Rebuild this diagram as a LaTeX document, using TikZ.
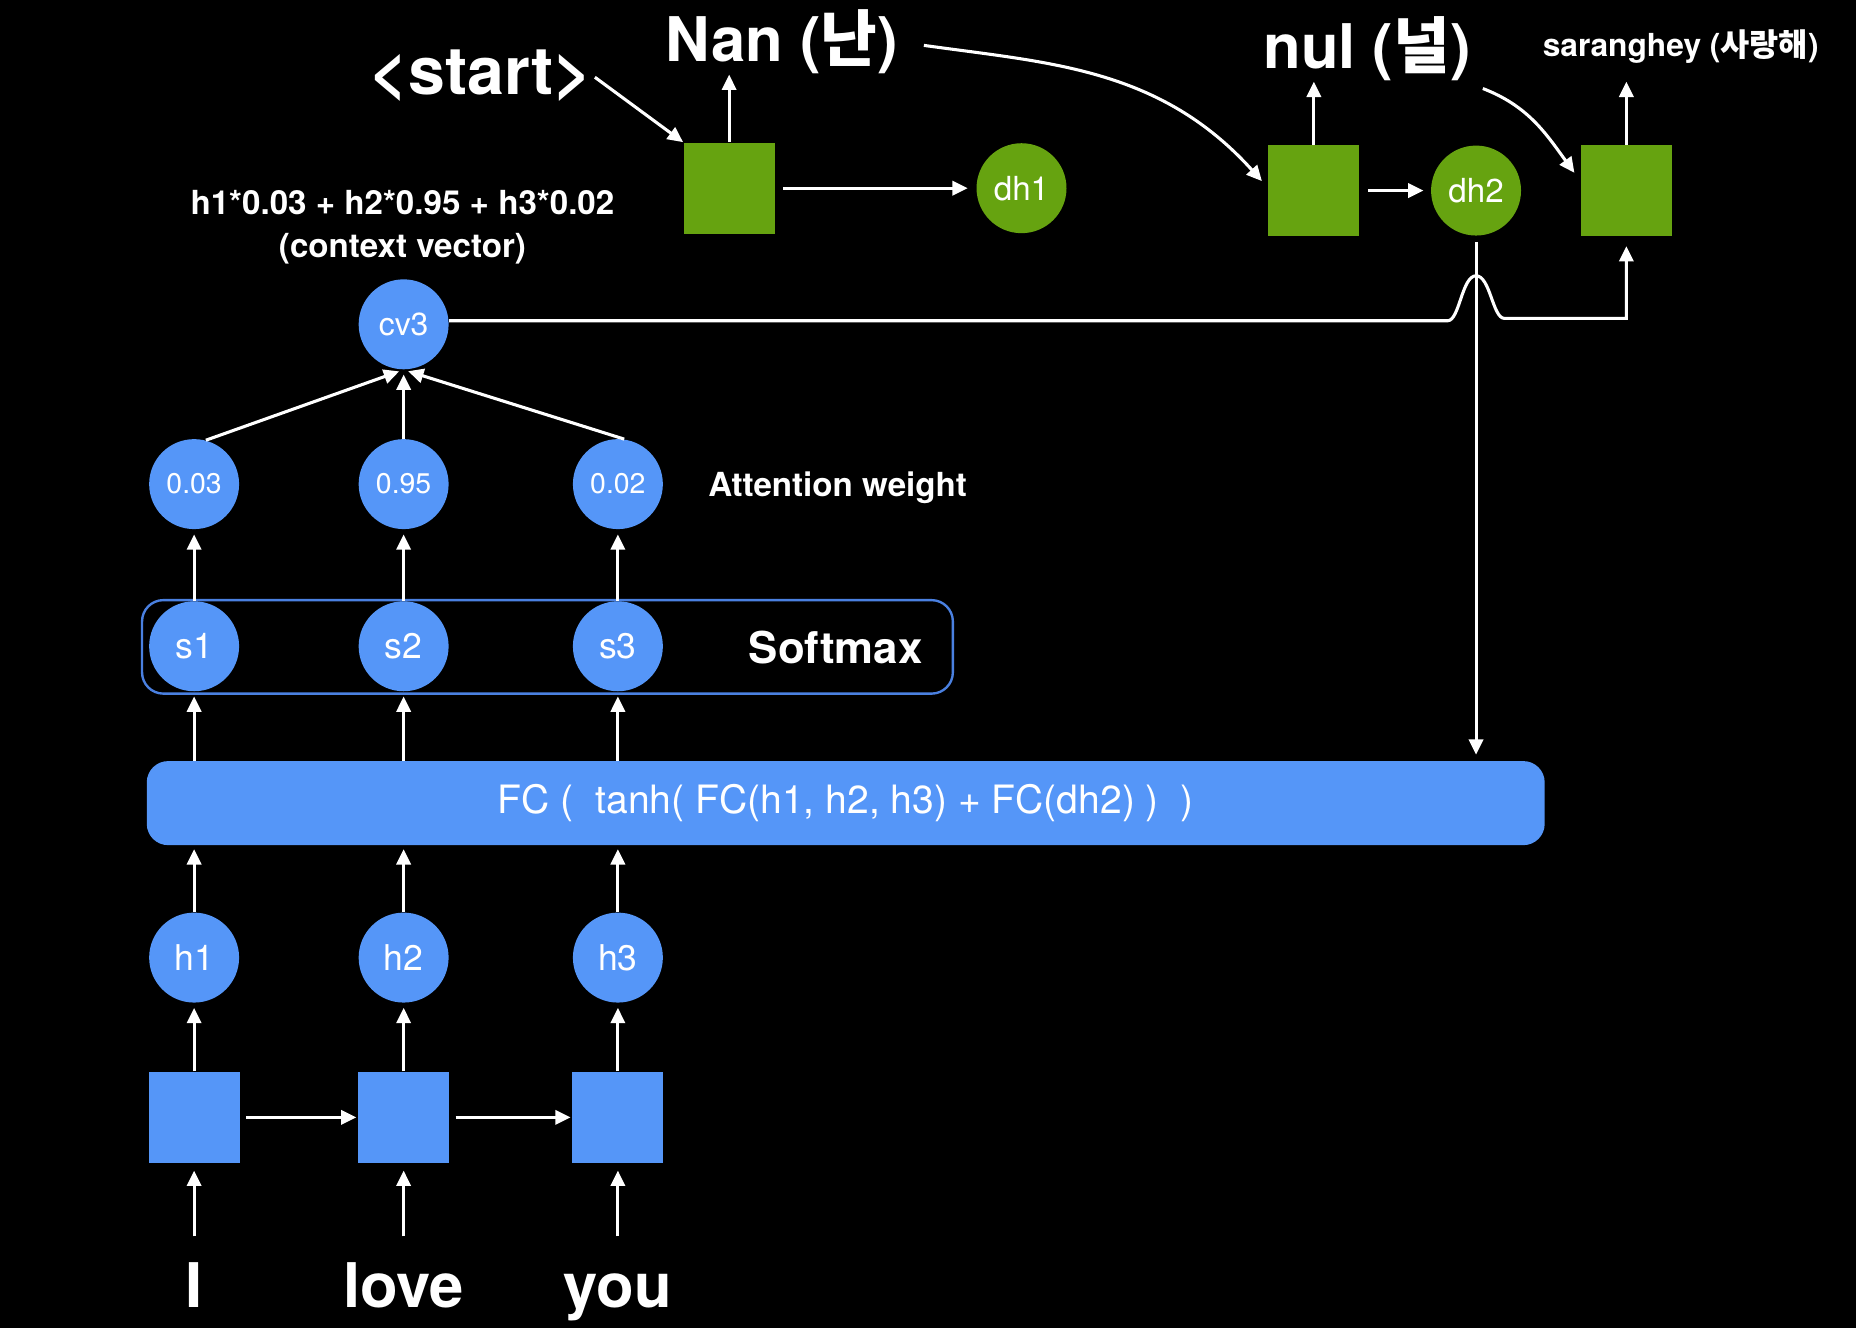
\documentclass[tikz,border=0pt]{standalone}
\usepackage{fontspec}
\setmainfont{TeX Gyre Heros}
\newfontfamily\kr{Noto Sans CJK KR}
\usetikzlibrary{arrows.meta,calc}
\definecolor{bblue}{RGB}{85,150,248}
\definecolor{ggreen}{RGB}{102,163,16}
\definecolor{bline}{RGB}{74,128,224}
\begin{document}
\begin{tikzpicture}[x=0.5pt,y=-0.5pt,
  >={Triangle[length=6.5pt,width=6pt]},
  conn/.style={draw=white,line width=1.3pt,->},
  bcirc/.style={circle,fill=bblue,minimum size=38pt,inner sep=0pt,text=white,font=\fontsize{15}{16}\selectfont},
  acirc/.style={bcirc,font=\fontsize{12}{14}\selectfont},
  bsq/.style={rectangle,fill=bblue,minimum size=38.5pt,inner sep=0pt},
  gsq/.style={rectangle,fill=ggreen,minimum size=38.5pt,inner sep=0pt},
  gcirc/.style={circle,fill=ggreen,minimum size=38pt,inner sep=0pt,text=white,font=\fontsize{14}{16}\selectfont},
  word/.style={text=white,inner sep=0pt,font=\bfseries\fontsize{26}{30}\selectfont,text height=19pt,text depth=6pt},
  big/.style={text=white,inner sep=0pt,font=\bfseries\fontsize{26}{30}\selectfont},
  lbl/.style={text=white,inner sep=0pt,font=\bfseries\fontsize{14}{18}\selectfont},
  fcbar/.style={rectangle,rounded corners=9pt,fill=bblue,minimum width=590.5pt,minimum height=35.5pt,text=white,inner sep=0pt,font=\fontsize{16.5}{18}\selectfont},
  smframe/.style={rectangle,draw=bline,line width=1pt,rounded corners=9pt,minimum width=342.5pt,minimum height=39.5pt,inner sep=0pt}
]
\fill[black] (0,0) rectangle (1568,1122);
\useasboundingbox (0,0) rectangle (1568,1122);

% encoder squares and words
\node[bsq] (sq1) at (164,944) {};
\node[bsq] (sq2) at (341,944) {};
\node[bsq] (sq3) at (522,944) {};
\node[word,anchor=base] (w1) at (164,1105) {I};
\node[word,anchor=base] (w2) at (341,1105) {love};
\node[word,anchor=base] (w3) at (522,1105) {you};
\foreach \i in {1,2,3}{
  \draw[conn,shorten <=11pt,shorten >=3pt] (w\i.north) -- (sq\i.south);
}
\draw[conn,shorten <=2.5pt,shorten >=0.5pt] (sq1.east) -- (sq2.west);
\draw[conn,shorten <=2.5pt,shorten >=0.5pt] (sq2.east) -- (sq3.west);

% hidden states
\node[bcirc] (h1) at (164,809) {h1};
\node[bcirc] (h2) at (341,809) {h2};
\node[bcirc] (h3) at (522,809) {h3};
\foreach \i in {1,2,3}{
  \draw[conn,shorten >=2pt] (sq\i.north) -- (h\i.south);
}

% FC bar
\node[fcbar] (fc) at (714.5,678.5) {FC (\ \ tanh( FC(h1, h2, h3) + FC(dh2) )\ \ )};
\foreach \i in {1,2,3}{
  \draw[conn,shorten >=1.5pt] (h\i.north) -- (h\i.north |- fc.south);
}

% softmax
\node[smframe] (smbox) at (462.5,546.5) {};
\node[bcirc] (s1) at (164,546) {s1};
\node[bcirc] (s2) at (341,546) {s2};
\node[bcirc] (s3) at (522,546) {s3};
\node[lbl,font=\bfseries\fontsize{18.5}{20}\selectfont] (smt) at (706,547) {Softmax};
\foreach \i in {1,2,3}{
  \draw[conn,shorten >=2pt] (s\i.south |- fc.north) -- (s\i.south);
}

% attention weights
\node[acirc] (a1) at (164,409) {0.03};
\node[acirc] (a2) at (341,409) {0.95};
\node[acirc] (a3) at (522,409) {0.02};
\node[lbl,anchor=west] (aw) at (598,412) {Attention weight};
\foreach \i in {1,2,3}{
  \draw[conn,shorten >=2pt] (s\i.north) -- (a\i.south);
}

% context vector
\node[bcirc,font=\fontsize{13.5}{15}\selectfont] (cv3) at (341,274) {cv3};
\node[lbl,align=center] (ctx) at (340,192) {h1*0.03 + h2*0.95 + h3*0.02\\(context vector)};
\draw[conn,shorten >=2pt] (a1.75) -- (cv3.south);
\draw[conn,shorten >=2pt] (a2.north) -- (cv3.south);
\draw[conn,shorten >=2pt] (a3.82) -- (cv3.south);

% decoder
\node[gsq] (gb1) at (616,159) {};
\node[gcirc] (dh1) at (863,159) {dh1};
\node[gsq] (gb2) at (1110,161) {};
\node[gcirc] (dh2) at (1247,161) {dh2};
\node[gsq] (gb3) at (1374,161) {};
\coordinate (o1) at (616,63);
\coordinate (o2) at (1110,69);
\coordinate (o3) at (1374,69);

\node[big,anchor=base west,font=\bfseries\fontsize{28}{30}\selectfont] (st) at (312,80) {<start>};
\node[big,anchor=base west] (nan) at (562,52) {Nan ({\kr 난})};
\node[big,anchor=base west] (nul) at (1067,58) {nul ({\kr 널})};
\node[lbl,font=\bfseries\fontsize{13.4}{15}\selectfont,anchor=base west] (sar) at (1303,48) {saranghey ({\kr 사랑해})};

\draw[conn] (gb1.north) -- (o1);
\draw[conn] (gb2.north) -- (o2);
\draw[conn] (gb3.north) -- (o3);
\draw[conn,shorten <=1pt] (st.east) -- (gb1.north west);
\draw[conn,shorten >=3.5pt,shorten <=3.5pt] (gb1.east) -- (dh1.west);
\draw[conn,shorten >=3pt,shorten <=3.5pt] (gb2.east) -- (dh2.west);
\draw[conn,shorten <=11pt] (nan.east) to[out=-8,in=132] ([xshift=-2.5pt,yshift=4pt]gb2.west);
\draw[conn] ([xshift=5pt,yshift=-3pt]nul.south east) to[out=-21,in=126] ([xshift=-2.5pt,yshift=7.5pt]gb3.west);

% context line with hop over
\coordinate (hl) at (1223,271);
\coordinate (hr) at (1271,269);
\draw[conn,shorten >=4pt] ([yshift=1.5pt]cv3.east) -- (hl)
  .. controls (1233,271) and (1235,233) .. (1247,233)
  .. controls (1259,233) and (1261,269) .. (hr)
  -- (gb3.south |- hr) -- (gb3.south);
\draw[conn,shorten <=2.5pt,shorten >=2.5pt] (dh2.south) -- (dh2.south |- fc.north);
\end{tikzpicture}
\end{document}
